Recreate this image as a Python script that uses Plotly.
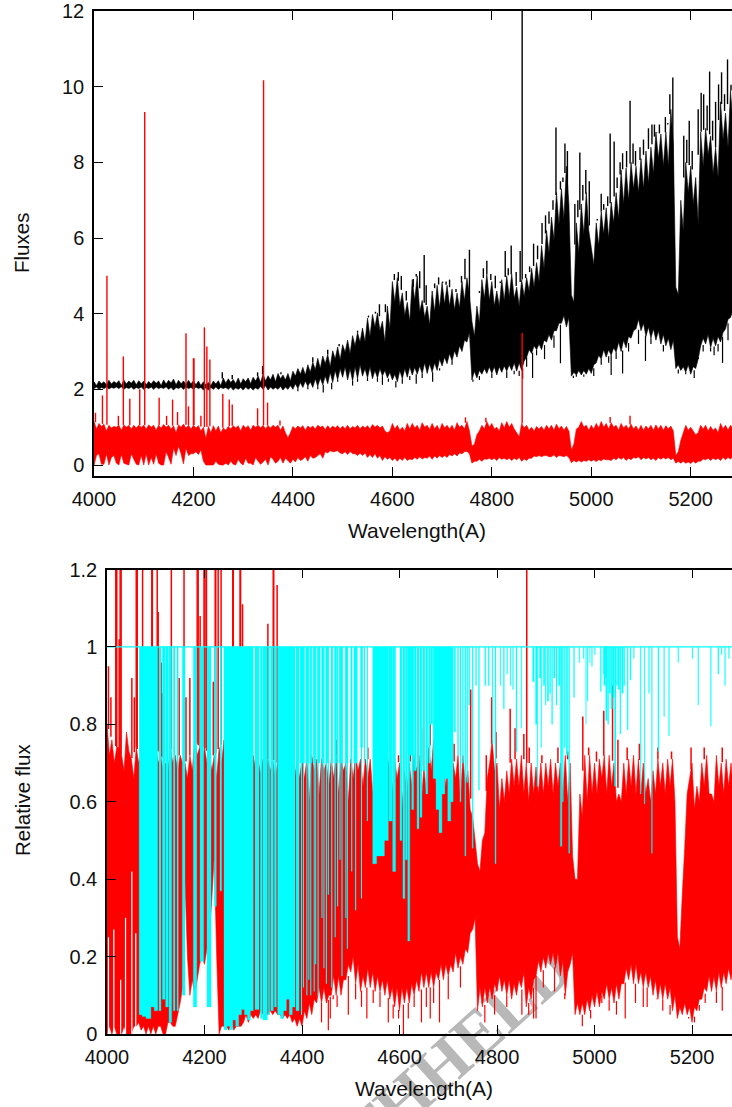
import numpy as np
import plotly.graph_objects as go

wave_grid = list(range(4000, 5290, 10))

black_hi = [
 2.20,2.22,2.20,2.24,2.21,2.23,2.25,2.22,2.24,2.23,
 2.22,2.21,2.23,2.22,2.25,2.24,2.27,2.24,2.22,2.24,
 2.23,2.22,2.20,2.18,2.22,2.23,2.30,2.28,2.26,2.30,
 2.28,2.30,2.32,2.35,2.40,2.36,2.40,2.42,2.38,2.42,
 2.48,2.55,2.58,2.65,2.72,2.82,2.88,2.92,3.02,3.12,
 3.18,3.30,3.42,3.50,3.62,3.88,3.98,4.02,3.80,4.20,
 4.85,4.95,4.55,4.30,4.90,5.00,4.35,4.20,4.60,4.75,
 4.82,4.75,4.65,4.55,4.85,4.95,3.80,4.20,4.90,5.05,
 4.85,4.60,4.90,5.00,5.05,4.70,4.90,4.95,5.20,5.35,
 5.80,6.20,6.55,7.20,7.30,7.90,4.50,6.40,6.90,7.20,
 5.75,6.40,6.70,6.80,6.95,7.20,7.80,7.85,8.00,7.90,
 8.10,8.30,8.40,8.80,8.75,8.80,9.40,4.70,7.00,8.00,
 7.90,7.60,8.80,8.90,8.70,8.40,9.60,9.30,9.90]
black_hi_mid = [
 2.10,2.15,2.12,2.14,2.16,2.10,2.14,2.16,2.12,2.15,
 2.12,2.14,2.16,2.10,2.14,2.17,2.12,2.15,2.13,2.14,
 2.12,2.10,2.12,2.10,2.14,2.10,2.16,2.18,2.15,2.14,
 2.20,2.15,2.22,2.18,2.22,2.25,2.20,2.28,2.25,2.22,
 2.35,2.40,2.38,2.45,2.52,2.55,2.68,2.60,2.80,2.78,
 2.98,2.95,3.15,3.25,3.25,3.40,3.65,3.55,3.25,3.60,
 4.30,4.20,3.95,3.80,4.35,4.05,3.90,3.70,4.05,4.15,
 4.25,4.20,4.10,4.15,4.35,4.50,3.40,3.75,4.40,4.35,
 4.20,4.20,4.35,4.45,4.40,4.20,4.45,4.60,4.70,4.85,
 5.20,5.60,5.95,6.35,6.50,6.90,4.30,5.60,6.10,6.20,
 5.30,5.80,6.10,6.00,6.40,6.50,6.90,7.00,7.30,7.20,
 7.30,7.45,7.70,8.10,7.90,7.90,8.50,4.50,6.20,7.20,
 6.90,6.40,7.90,8.20,7.70,7.60,8.60,8.40,9.00]
black_lo = [
 2.02,2.00,2.02,2.01,2.03,2.02,2.00,2.02,2.00,2.02,
 2.00,2.02,2.00,2.02,2.02,2.00,1.98,2.02,2.00,2.02,
 2.00,2.02,1.98,1.98,2.00,2.00,2.02,2.00,1.98,2.00,
 1.98,2.00,1.98,2.00,2.00,1.98,2.00,2.00,1.98,2.00,
 2.00,2.02,2.05,2.08,2.05,2.08,2.12,2.15,2.18,2.25,
 2.32,2.25,2.22,2.28,2.35,2.30,2.28,2.30,2.35,2.30,
 2.25,2.20,2.28,2.32,2.38,2.40,2.42,2.42,2.45,2.50,
 2.62,2.68,2.75,2.85,3.00,3.25,2.25,2.30,2.40,2.42,
 2.42,2.38,2.45,2.48,2.50,2.48,2.50,2.85,2.95,3.05,
 3.05,3.25,3.30,3.55,3.75,3.65,2.35,2.38,2.38,2.40,
 2.42,2.70,2.80,2.85,2.90,2.98,3.00,3.10,3.35,3.60,
 3.55,3.40,3.35,3.30,3.20,3.15,3.05,2.55,2.50,2.45,
 2.40,2.55,3.15,3.20,3.10,3.15,3.25,3.60,3.90]
black_lo_mid = [
 2.06,2.05,2.06,2.05,2.06,2.07,2.05,2.06,2.05,2.06,
 2.05,2.06,2.06,2.05,2.07,2.05,2.05,2.06,2.06,2.05,
 2.06,2.05,2.04,2.05,2.06,2.05,2.05,2.06,2.04,2.05,
 2.06,2.05,2.04,2.08,2.10,2.06,2.05,2.08,2.06,2.10,
 2.15,2.18,2.22,2.20,2.28,2.30,2.35,2.45,2.50,2.55,
 2.60,2.55,2.60,2.65,2.55,2.60,2.50,2.55,2.50,2.45,
 2.40,2.50,2.55,2.60,2.58,2.62,2.70,2.68,2.70,2.80,
 2.85,2.95,3.02,3.15,3.30,3.50,2.48,2.50,2.55,2.60,
 2.60,2.60,2.62,2.65,2.70,2.70,2.75,3.05,3.15,3.20,
 3.30,3.45,3.55,3.75,3.95,3.90,2.45,2.50,2.50,2.55,
 2.65,2.90,3.05,3.05,3.10,3.25,3.30,3.40,3.55,3.85,
 3.75,3.65,3.60,3.55,3.45,3.35,3.30,2.65,2.60,2.65,
 2.60,2.80,3.35,3.45,3.35,3.40,3.50,3.85,4.10]
black_spike_wave = [4258,4278,4329,4339,4376,4612,4648,4664,4693,4701,4746,4755,4790,4798,4827,4839,4857,4861,4884,4901,
                    4929,4947,4977,4989,5020,5038,5046,5063,5078,5089,5122,5132,5154,5164,5186,5197,5221,5238,5256,5262,5274,5281,
                    4440,4470,4493,4530,4552,4566,4574,4586,4604,4618,4628,4642,4655,4668,4685,4708,4715,4728,4739,4775,
                    4783,4807,4817,4833,4849,4868,4876,4892,4908,4915,4923,4938,4943,4952,4967,4973,4983,4996,5012,5025,
                    5033,5052,5058,5071,5084,5098,5105,5115,5127,5137,5149,5158,5192,5203,5215,5226,5233,5244,5250,5268]
black_spike_top = [2.45,2.38,2.45,2.62,2.45,5.10,5.05,5.55,4.96,4.85,5.45,5.69,5.40,5.05,5.66,5.80,5.66,13.0,5.85,6.40,
                   8.92,8.50,8.26,7.80,7.17,8.76,8.55,8.24,9.63,8.30,9.00,8.80,9.00,10.24,8.70,9.10,9.84,10.40,10.06,10.38,10.72,10.05,
                   2.85,3.05,3.20,3.55,3.95,4.05,4.25,4.25,5.05,5.00,4.60,4.70,5.12,4.75,4.80,4.85,4.90,4.65,5.00,4.60,
                   5.20,5.00,4.85,5.20,5.10,5.05,5.25,5.80,6.60,6.70,7.00,7.50,7.60,8.30,6.90,7.00,7.40,7.50,6.50,6.90,
                   7.10,7.60,8.00,8.30,8.50,8.40,8.60,8.90,9.00,9.00,9.20,9.80,8.60,8.30,9.40,9.80,9.50,9.10,9.60,9.80]
black_dip_wave = [4461,4478,4520,4580,4607,4648,4681,4762,4862,4882,4906,4938,4964,5040,5063,5109,5207,5247,5264,
                  4410,4430,4450,4490,4530,4550,4570,4592,4620,4635,4660,4695,4720,4775,4800,4830,4845,4855,4870,4890,
                  4925,4970,4985,5005,5020,5035,5050,5075,5095,5120,5145,5175,5190,5215,5225,5240,5255,5275]
black_dip_low = [1.92,2.00,2.10,2.12,2.05,2.15,2.20,2.20,2.28,2.30,2.80,2.69,2.30,2.38,2.42,2.75,2.30,2.90,2.70,
                 1.95,2.00,2.00,2.20,2.20,2.22,2.20,2.20,2.15,2.25,2.30,2.50,2.65,2.25,2.30,2.30,2.40,2.35,2.60,2.90,
                 3.10,2.33,2.33,2.35,2.65,2.70,2.80,3.00,3.20,3.20,3.00,2.42,2.40,2.80,3.00,3.00,3.00,3.30]

red_hi = [
 1.15,1.10,1.08,1.05,1.02,1.05,1.06,1.05,1.05,1.05,
 1.05,1.06,1.05,1.05,1.07,1.05,1.04,1.06,1.08,1.05,
 1.05,1.04,1.00,1.02,1.04,1.03,0.98,1.02,1.04,1.04,
 1.05,1.04,1.05,1.05,1.05,1.04,1.05,1.05,1.03,0.72,
 1.02,1.03,1.04,1.03,1.03,1.05,1.03,1.04,1.03,1.04,
 1.03,1.05,1.02,1.05,1.03,1.04,1.07,1.05,1.03,0.85,
 1.10,1.05,1.00,1.10,1.10,1.05,1.12,1.05,1.10,1.05,
 1.10,1.05,1.05,1.12,1.05,1.15,0.50,0.80,1.05,1.15,
 1.10,1.00,1.12,1.15,1.10,0.85,1.10,1.05,1.00,1.02,
 1.02,1.05,1.05,1.08,1.03,1.02,0.40,0.95,1.15,1.05,
 1.05,1.10,1.15,1.10,1.12,1.05,1.10,1.05,1.08,1.03,
 1.05,1.03,1.05,1.06,1.05,1.04,1.03,0.25,0.65,1.05,
 1.00,0.80,1.05,1.05,1.02,0.98,1.10,1.05,1.05]
red_hi_mid = [
 0.95,1.02,0.90,0.98,1.00,0.92,1.00,0.95,0.98,1.00,
 0.95,1.00,0.92,0.98,1.00,0.95,0.85,1.00,0.98,0.95,
 0.98,0.90,0.70,0.85,0.90,0.85,0.92,0.95,0.98,0.90,
 0.98,0.92,1.00,0.98,0.96,0.98,1.00,0.92,0.85,0.85,
 0.96,0.98,0.92,0.98,0.95,1.00,0.94,0.96,0.98,0.95,
 0.96,0.95,0.98,0.95,0.98,0.95,1.00,0.98,0.90,0.90,
 0.95,0.92,0.90,0.95,0.98,0.92,1.00,0.94,0.96,0.92,
 0.98,0.95,0.92,1.00,0.95,0.90,0.55,0.90,0.95,1.00,
 0.95,0.90,0.98,1.00,0.95,0.75,0.98,0.92,0.90,0.95,
 0.92,0.95,0.92,0.96,0.92,0.90,0.55,1.00,1.00,0.92,
 0.95,0.98,1.00,0.95,1.00,0.92,0.98,0.95,0.95,0.92,
 0.92,0.95,0.92,0.95,0.92,0.95,0.90,0.35,0.85,0.92,
 0.90,0.85,0.95,0.90,0.92,0.85,0.96,0.92,0.95]
red_lo = [
 0.00,0.30,0.02,0.00,0.25,0.00,0.05,0.00,0.15,0.00,
 0.00,0.00,0.02,0.05,0.00,0.20,0.45,0.50,0.03,0.25,
 0.30,0.28,0.10,0.00,0.00,0.02,0.00,0.00,0.02,0.15,
 0.00,0.05,0.00,0.10,0.08,0.00,0.15,0.10,0.05,0.12,
 0.15,0.20,0.15,0.10,0.18,0.25,0.18,0.32,0.35,0.38,
 0.30,0.28,0.30,0.25,0.25,0.20,0.20,0.18,0.12,0.15,
 0.12,0.10,0.12,0.12,0.14,0.15,0.16,0.18,0.15,0.18,
 0.20,0.20,0.24,0.24,0.30,0.36,0.05,0.10,0.10,0.15,
 0.14,0.12,0.15,0.14,0.12,0.14,0.10,0.12,0.18,0.22,
 0.22,0.25,0.22,0.20,0.24,0.25,0.06,0.08,0.08,0.10,
 0.10,0.09,0.11,0.14,0.12,0.14,0.15,0.12,0.14,0.18,
 0.14,0.16,0.14,0.12,0.15,0.16,0.14,0.05,0.05,0.05,
 0.04,0.05,0.10,0.14,0.12,0.14,0.12,0.14,0.16]
red_lo_mid = [
 0.25,0.02,0.30,0.20,0.05,0.28,0.02,0.30,0.02,0.25,
 0.30,0.20,0.30,0.00,0.35,0.02,0.25,0.30,0.45,0.30,
 0.35,0.40,0.00,0.00,0.10,0.00,0.05,0.10,0.00,0.05,
 0.18,0.05,0.20,0.02,0.15,0.22,0.05,0.20,0.18,0.05,
 0.08,0.12,0.22,0.25,0.20,0.30,0.35,0.38,0.36,0.32,
 0.35,0.36,0.30,0.32,0.32,0.28,0.30,0.25,0.22,0.20,
 0.18,0.18,0.20,0.16,0.20,0.22,0.20,0.24,0.24,0.25,
 0.25,0.28,0.30,0.32,0.35,0.30,0.10,0.15,0.16,0.18,
 0.18,0.20,0.18,0.18,0.18,0.20,0.16,0.18,0.24,0.25,
 0.25,0.22,0.27,0.25,0.22,0.20,0.12,0.12,0.12,0.14,
 0.14,0.14,0.16,0.14,0.18,0.20,0.20,0.18,0.20,0.22,
 0.20,0.20,0.18,0.20,0.20,0.20,0.18,0.10,0.10,0.08,
 0.10,0.10,0.16,0.18,0.18,0.18,0.20,0.20,0.22]
red_spike_wave = [4003,4017,4026,4049,4059,4072,4092,4102,4131,4146,4158,4168,4185,4190,4200,4201,4215,4222,4227,4233,
                  4259,4272,4278,4329,4341,4349,4374,4747,4788,4861,5038,5078]
red_spike_top = [1.38,1.84,5.00,1.30,2.87,1.75,2.00,9.33,1.78,1.30,1.73,1.40,3.48,1.55,2.82,2.82,1.30,3.64,3.13,2.79,
                 1.88,1.73,1.60,1.50,10.17,1.65,1.18,1.26,1.25,3.49,1.27,1.30]

rel_hi = [
 0.80,0.76,0.74,0.72,0.78,0.71,0.74,0.72,0.72,0.74,
 0.74,0.72,0.70,0.74,0.72,0.72,0.70,0.72,0.76,0.74,
 0.74,0.72,0.72,0.74,0.76,0.72,0.70,0.72,0.72,0.72,
 0.72,0.71,0.71,0.71,0.71,0.70,0.72,0.71,0.70,0.71,
 0.71,0.71,0.72,0.71,0.71,0.70,0.71,0.72,0.71,0.70,
 0.71,0.72,0.71,0.71,0.71,0.72,0.70,0.71,0.72,0.71,
 0.70,0.68,0.70,0.72,0.72,0.69,0.74,0.76,0.71,0.70,
 0.70,0.70,0.72,0.72,0.68,0.56,0.44,0.50,0.66,0.76,
 0.70,0.66,0.68,0.71,0.71,0.72,0.70,0.70,0.69,0.70,
 0.70,0.71,0.70,0.70,0.72,0.70,0.40,0.62,0.72,0.72,
 0.70,0.71,0.72,0.72,0.70,0.62,0.70,0.71,0.72,0.71,
 0.70,0.66,0.68,0.71,0.70,0.71,0.71,0.25,0.36,0.62,
 0.70,0.64,0.70,0.72,0.62,0.72,0.70,0.71,0.70]
rel_hi_mid = [
 0.72,0.70,0.74,0.68,0.73,0.66,0.70,0.68,0.70,0.70,
 0.70,0.68,0.68,0.70,0.68,0.70,0.66,0.68,0.72,0.70,
 0.70,0.68,0.66,0.70,0.72,0.68,0.66,0.68,0.68,0.68,
 0.68,0.67,0.66,0.68,0.66,0.66,0.68,0.66,0.66,0.66,
 0.66,0.60,0.68,0.62,0.68,0.64,0.66,0.62,0.68,0.60,
 0.66,0.68,0.64,0.66,0.62,0.66,0.60,0.68,0.62,0.66,
 0.58,0.62,0.64,0.68,0.60,0.62,0.68,0.64,0.62,0.64,
 0.62,0.66,0.60,0.64,0.58,0.50,0.42,0.52,0.70,0.68,
 0.58,0.60,0.62,0.64,0.64,0.62,0.60,0.62,0.62,0.62,
 0.64,0.62,0.64,0.62,0.60,0.46,0.40,0.56,0.60,0.62,
 0.62,0.66,0.62,0.64,0.60,0.60,0.62,0.64,0.62,0.62,
 0.62,0.60,0.62,0.64,0.62,0.64,0.60,0.22,0.48,0.66,
 0.58,0.60,0.64,0.62,0.60,0.64,0.62,0.64,0.62]
rel_lo = [
 0.00,0.00,0.00,0.00,0.00,0.00,0.02,0.01,0.00,0.00,
 0.00,0.02,0.00,0.03,0.02,0.08,0.40,0.10,0.10,0.18,
 0.18,0.25,0.46,0.00,0.02,0.01,0.01,0.02,0.03,0.03,
 0.04,0.04,0.05,0.05,0.05,0.05,0.04,0.04,0.03,0.02,
 0.02,0.04,0.05,0.08,0.08,0.08,0.10,0.10,0.10,0.14,
 0.16,0.13,0.11,0.12,0.12,0.11,0.11,0.10,0.09,0.07,
 0.06,0.08,0.08,0.10,0.11,0.12,0.12,0.12,0.14,0.14,
 0.15,0.16,0.17,0.18,0.21,0.27,0.06,0.07,0.08,0.09,
 0.11,0.11,0.10,0.09,0.10,0.12,0.07,0.09,0.15,0.16,
 0.17,0.18,0.17,0.15,0.10,0.18,0.05,0.05,0.05,0.06,
 0.07,0.07,0.09,0.09,0.08,0.09,0.13,0.14,0.13,0.13,
 0.12,0.12,0.10,0.09,0.09,0.09,0.06,0.04,0.05,0.05,
 0.03,0.06,0.09,0.11,0.11,0.11,0.12,0.13,0.14]
rel_lo_mid = [
 0.02,0.02,0.00,0.02,0.00,0.02,0.03,0.02,0.02,0.02,
 0.02,0.00,0.03,0.02,0.05,0.12,0.20,0.14,0.14,0.20,
 0.22,0.35,0.20,0.02,0.02,0.03,0.02,0.02,0.05,0.05,
 0.05,0.06,0.06,0.06,0.06,0.05,0.05,0.05,0.04,0.04,
 0.06,0.08,0.09,0.12,0.12,0.10,0.15,0.15,0.14,0.18,
 0.20,0.18,0.15,0.17,0.16,0.15,0.14,0.14,0.12,0.12,
 0.12,0.12,0.13,0.14,0.16,0.16,0.16,0.16,0.18,0.18,
 0.18,0.21,0.20,0.22,0.26,0.30,0.12,0.12,0.12,0.13,
 0.15,0.14,0.14,0.13,0.14,0.16,0.12,0.14,0.19,0.20,
 0.21,0.21,0.21,0.19,0.16,0.21,0.08,0.08,0.09,0.10,
 0.11,0.11,0.13,0.12,0.13,0.13,0.17,0.18,0.18,0.16,
 0.16,0.15,0.14,0.13,0.13,0.12,0.10,0.07,0.08,0.07,
 0.07,0.09,0.12,0.15,0.15,0.16,0.16,0.17,0.18]
rel_spike_wave = [4003,4008,4018,4020,4025,4027,4029,4051,4056,4060,4062,4073,4092,4093,4103,4105,4111,4113,4132,4148,
                  4158,4162,4170,4185,4187,4191,4199,4201,4204,4218,4222,4223,4228,4234,4258,4259,4273,4274,4278,4330,
                  4341,4342,4349,4470,4649,4663,4746,4789,4827,4837,4855,4861,4976,5019,5037,
                  4535,4598,4622,4680,4695,4712,4778,4798,4866,4892,4925,4945,4988,5004,5048,5067,5092,5130,5158,5198,5225,5262]
rel_spike_top = [0.95,0.87,1.50,1.50,1.02,1.50,1.50,0.92,0.87,1.50,1.50,1.50,1.50,1.50,1.50,1.09,0.96,0.88,1.50,0.92,
                 1.50,0.87,0.92,1.50,1.50,1.08,1.50,1.50,1.50,0.91,1.50,1.50,1.50,1.50,1.50,1.50,1.50,1.50,1.11,1.06,
                 1.50,1.50,1.16,0.76,0.79,0.80,0.89,0.87,0.84,0.79,0.775,1.50,0.82,0.835,0.90,
                 0.74,0.72,0.75,0.76,0.74,0.75,0.72,0.78,0.74,0.72,0.74,0.73,0.74,0.73,0.76,0.74,0.75,0.74,0.73,0.74,0.74,0.74]
rel_dip_wave = [4454,4458,4464,4495,4533,4546,4577,4587,4598,4608,4645,4663,4682,4851,4875,4880,4939,5015,5063,5084,5108,5128,5193,5205,5227,5262,
                4440,4472,4510,4522,4560,4618,4630,4655,4670,4700,4725,4775,4795,4820,4865,4895,4918,4975,4992,5030,5045,5100,5140,5155,5215,5250]
rel_dip_low = [0.01,0.04,0.09,0.05,0.04,0.08,0.03,0.04,0.04,0.00,0.03,0.04,0.03,0.05,0.04,0.04,0.09,0.10,0.04,0.08,0.07,0.09,0.04,0.03,0.08,0.06,
               0.03,0.07,0.09,0.07,0.07,0.04,0.07,0.07,0.08,0.09,0.12,0.03,0.05,0.07,0.05,0.12,0.11,0.02,0.04,0.06,0.05,0.07,0.06,0.05,0.06,0.08]
rel_gap_wave = [4003,4014,4028,4038,4051,4059]
rel_gap_top = [0.25,0.27,0.14,0.30,0.42,0.26]

cyan_left = [
 4066,4072,4080,4090,4097,4106.7,4113.5,4120.3,4127.2,4136.1,
 4143.6,4154.5,4177.1,4190.8,4205.1,4220.2,4231.8,4240,4246,4252,
 4258,4264,4270,4276,4282,4288,4294,4303.6,4314.5,4320,
 4331,4335.8,4343.3,4350,4356,4362,4368,4374,4380,4387.8,
 4396,4408,4417,4423,4431.5,4441,4449,4459.5,4467,4476.6,
 4489,4499.8,4506.7,4520,4545,4553,4561,4569,4578,4586,
 4601,4607,4612,4617,4621,4625,4630,4636,4642,4648,
 4654,4660,4664,4669,4675,4681,4687,4693,4699,4705,
 4712,4719,4724,4729,4734,4738,4742,4749,4756,4762,
 4775,4782,4790,4796,4806,4813,4820,4827,4832,4839,
 4849,4873,4879,4882,4887,4890,4895,4899,4903,4908,
 4912,4916,4921,4926,4930,4934,4938,4942,4947,4957,
 4968,4977,4982,4985,4990,4994,5000,5012,5018,5022,
 5019,5023,5027,5030,5034,5038,5041,5045,5048,5052,
 5056,5060,5067,5073,5080,5094,5102,5111,5117,5130,
 5142,5152,5171,5200,5212,5238,5253,5260,5267,5275]
cyan_width = [
 6,8,10,7,7,4,5.5,5.5,5.5,3.4,
 2.7,5.5,7,7.5,8.3,4.1,3.4,6,6,6,
 6,6,6,6,6,6,6,8.2,4.1,9,
 2.7,5.4,4.1,6,6,6,6,6,5.7,6,
 9.5,5.7,3,4.4,5.5,4,5,3.5,4,6.8,
 5.4,2.8,6.8,4.5,8,8,8,8,7,6,
 4,4,4,4,4,4,4,4,4,4,
 4,3,4,6,6,6,6,6,6,5,
 3,2,2,2,2,2,2,2,2,2,
 2,2,1.5,2,1.5,2,1.5,1.5,1.5,2,
 1.5,3,3,1.5,3,1.5,3,1.5,3,2,
 2,3,2,3,3,2,2,3,2,2,
 1.5,1.5,1,1.5,1,1.5,1.5,2,3,3,
 3,3,2,3,3,2,3,2,3,2,
 3,2,2,2,1.5,1.5,1.5,1.5,1.5,2,
 1.5,1.5,1.5,1.5,1.5,1.5,2,1.5,1.5,1.5]
cyan_depth = [
 0.05,0.045,0.04,0.07,0.06,0.06,0.09,0.07,0.03,0.06,
 0.06,0.10,0.07,0.187,0.07,0.33,0.37,0.011,0.02,0.011,
 0.036,0.02,0.05,0.063,0.05,0.036,0.06,0.063,0.04,0.036,
 0.05,0.06,0.07,0.05,0.04,0.06,0.09,0.05,0.07,0.06,
 0.70,0.70,0.70,0.70,0.70,0.70,0.70,0.70,0.70,0.70,
 0.70,0.70,0.70,0.74,0.44,0.46,0.46,0.50,0.55,0.42,
 0.50,0.35,0.45,0.24,0.72,0.58,0.68,0.53,0.56,0.68,
 0.62,0.70,0.80,0.66,0.58,0.52,0.62,0.66,0.55,0.60,
 0.78,0.72,0.60,0.70,0.46,0.65,0.85,0.48,0.90,0.63,
 0.90,0.90,0.75,0.44,0.90,0.84,0.93,0.90,0.89,0.73,
 0.79,0.91,0.80,0.64,0.92,0.74,0.90,0.85,0.86,0.88,
 0.80,0.92,0.85,0.90,0.485,0.60,0.74,0.72,0.467,0.87,
 0.96,0.97,0.80,0.86,0.96,0.95,0.98,0.885,0.93,0.92,
 0.90,0.81,0.80,0.88,0.84,0.87,0.64,0.90,0.89,0.775,
 0.88,0.90,0.786,0.915,0.97,0.62,0.595,0.88,0.467,0.73,
 0.82,0.77,0.96,0.97,0.85,0.795,0.93,0.98,0.90,0.97]
cyan_deep_wave = [4399,4403,4410,4414,4418,4425,4428,4433,4441,4445,4450,4454,4461,4468,4473,4478,4482,4490,4493,4502,4510,4522,4528,4534]
cyan_deep_depth = [0.05,0.12,0.10,0.14,0.10,0.11,0.18,0.10,0.30,0.17,0.13,0.36,0.12,0.25,0.33,0.45,0.15,0.30,0.22,0.42,0.32,0.35,0.70,0.55]

x_ticks = [4000, 4200, 4400, 4600, 4800, 5000, 5200]
flux_ticks = [0, 2, 4, 6, 8, 10, 12]
rel_ticks = [0, 0.2, 0.4, 0.6, 0.8, 1, 1.2]


def merge(grid, main, mid):
    xs, ys = [], []
    for g, a, b in zip(grid, main, mid):
        xs += [g, g + 5]
        ys += [a, b]
    return xs, ys


def band(grid, hi, hi_mid, lo, lo_mid):
    ux, uy = merge(grid, hi, hi_mid)
    dx, dy = merge(grid, lo, lo_mid)
    return ux + dx[::-1] + [ux[0]], uy + dy[::-1] + [uy[0]]


def sticks(wave, value, grid, ref):
    xs, ys = [], []
    for w, v in zip(wave, value):
        xs += [w, w, None]
        ys += [float(np.interp(w, grid, ref)), v, None]
    return xs, ys


def lines(fig, x, y, color, width, row):
    fig.add_trace(go.Scatter(x=x, y=y, mode="lines", line=dict(color=color, width=width, simplify=False),
                             hoverinfo="skip", showlegend=False, connectgaps=False,
                             xaxis="x" if row == 1 else "x2", yaxis="y" if row == 1 else "y2"))


def region(fig, x, y, color, row, width=0.6):
    fig.add_trace(go.Scatter(x=x, y=y, mode="lines", fill="toself", fillcolor=color,
                             line=dict(color=color, width=width, simplify=False), hoverinfo="skip", showlegend=False,
                             xaxis="x" if row == 1 else "x2", yaxis="y" if row == 1 else "y2"))


fig = go.Figure()
bx, by = band(wave_grid, black_hi, black_hi_mid, black_lo, black_lo_mid)
region(fig, bx, by, "#000000", 1)
lines(fig, *sticks(black_spike_wave, black_spike_top, wave_grid, black_hi), "#000000", 1.4, 1)
lines(fig, *sticks(black_dip_wave, black_dip_low, wave_grid, black_lo), "#000000", 1.2, 1)
rx, ry = band(wave_grid, red_hi, red_hi_mid, red_lo, red_lo_mid)
region(fig, rx, ry, "#ff0000", 1)
lines(fig, *sticks(red_spike_wave, red_spike_top, wave_grid, red_hi), "#ff0000", 1.4, 1)

rx2, ry2 = band(wave_grid, rel_hi, rel_hi_mid, rel_lo, rel_lo_mid)
region(fig, rx2, ry2, "#ff0000", 2)
lines(fig, *sticks(rel_spike_wave, rel_spike_top, wave_grid, rel_hi), "#ff0000", 1.5, 2)
lines(fig, *sticks(rel_dip_wave, rel_dip_low, wave_grid, rel_lo), "#ff0000", 1.2, 2)
gx, gy = [], []
for w, t in zip(rel_gap_wave, rel_gap_top):
    gx += [w, w, None]
    gy += [0, t, None]
lines(fig, gx, gy, "#ffffff", 1.2, 2)

cx, cy = [], []
for l, w, d in zip(cyan_left, cyan_width, cyan_depth):
    cx += [l, l, l + w, l + w, l, None]
    cy += [1, d, d, 1, 1, None]
region(fig, cx, cy, "#00ffff", 2, width=0.3)
dx, dy = [], []
for w, d in zip(cyan_deep_wave, cyan_deep_depth):
    dx += [w, w, None]
    dy += [1, d, None]
lines(fig, dx, dy, "#00ffff", 1.1, 2)
lines(fig, [4000, 5290], [1, 1], "#00ffff", 1.2, 2)

W, H = 732, 1107
FONT = "Liberation Sans, Arial, sans-serif"
axis = dict(ticks="inside", ticklen=9, tickwidth=1, tickcolor="#000", linecolor="#000", linewidth=1.5,
            showgrid=False, zeroline=False, tickfont=dict(family=FONT, size=20, color="#111"))
fig.update_layout(
    width=W, height=H, margin=dict(l=0, r=0, t=0, b=0, autoexpand=False), autosize=False,
    paper_bgcolor="#fff", plot_bgcolor="rgba(0,0,0,0)", showlegend=False,
    xaxis=dict(axis, domain=[94 / W, 1], range=[4000, 5283], tickvals=x_ticks, mirror="ticks", anchor="y", ticklabelstandoff=4),
    yaxis=dict(axis, domain=[1 - 476 / H, 1 - 11 / H], range=[-0.29, 12], tickvals=flux_ticks, anchor="x", ticklabelstandoff=4),
    xaxis2=dict(axis, domain=[107 / W, 1], range=[4000, 5282], tickvals=x_ticks, mirror="ticks", anchor="y2", ticklabelstandoff=4),
    yaxis2=dict(axis, domain=[1 - 1034 / H, 1 - 569.5 / H], range=[0, 1.2], tickvals=rel_ticks, anchor="x2", ticklabelstandoff=4),
    shapes=[dict(type="rect", xref="paper", yref="paper", layer="below",
                 x0=408 / W, x1=428 / W, y0=1 - 1087 / H, y1=1 - 1067 / H,
                 line=dict(width=0), fillcolor="rgba(0,0,0,0)",
                 label=dict(text="<b>WITHHELD</b>", textangle=-42, textposition="middle center",
                            font=dict(family="Liberation Serif", size=66, color="#b8b8b8")))],
    annotations=[
        dict(text="Wavelength(A)", x=417 / W, y=1 - 530 / H, xref="paper", yref="paper", showarrow=False,
             font=dict(family=FONT, size=21, color="#111"), xanchor="center", yanchor="middle"),
        dict(text="Wavelength(A)", x=424 / W, y=1 - 1088 / H, xref="paper", yref="paper", showarrow=False,
             font=dict(family=FONT, size=21, color="#111"), xanchor="center", yanchor="middle"),
        dict(text="Fluxes", x=22 / W, y=1 - 243 / H, xref="paper", yref="paper", showarrow=False, textangle=-90,
             font=dict(family=FONT, size=20.5, color="#111"), xanchor="center", yanchor="middle"),
        dict(text="Relative flux", x=22 / W, y=1 - 800 / H, xref="paper", yref="paper", showarrow=False, textangle=-90,
             font=dict(family=FONT, size=20.5, color="#111"), xanchor="center", yanchor="middle"),
    ],
)
fig.write_html("out.html", post_script="document.body.style.margin='0';", config={"displayModeBar": False})
